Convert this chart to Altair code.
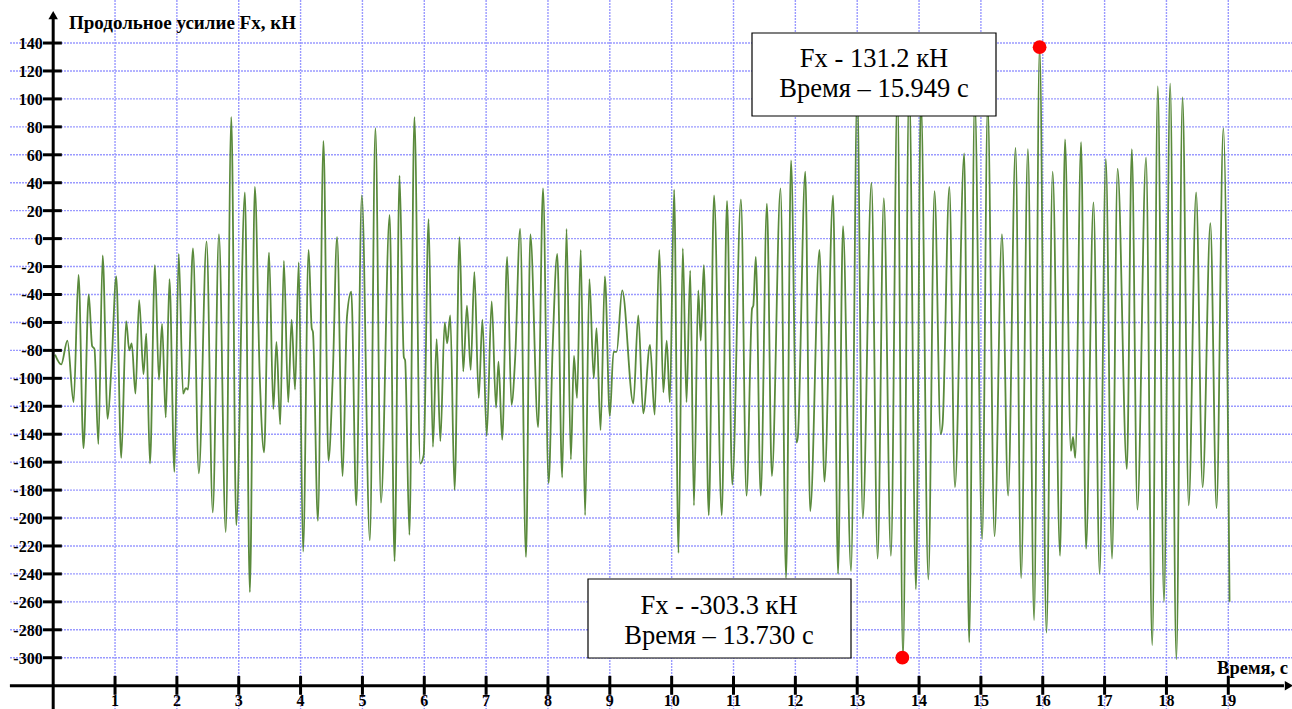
import altair as alt
import pandas as pd

# ---- signal ----
time_s = [0.03, 0.13, 0.23, 0.33, 0.41, 0.49, 0.575, 0.63, 0.667, 0.73, 0.80, 0.88, 0.946,
          1.02, 1.10, 1.18, 1.23, 1.27, 1.33, 1.39, 1.46, 1.505, 1.565, 1.645, 1.71, 1.76, 1.82, 1.88, 1.96,
          2.03, 2.10, 2.145, 2.18, 2.26, 2.355, 2.48, 2.58, 2.68, 2.79, 2.88, 2.96,
          3.10, 3.18, 3.26, 3.34, 3.41, 3.49, 3.56, 3.61, 3.67, 3.73, 3.80, 3.855, 3.91, 3.97,
          4.04, 4.13, 4.18, 4.20, 4.28, 4.37, 4.45, 4.52, 4.59, 4.68, 4.75, 4.82, 4.90, 4.99,
          5.12, 5.21, 5.30, 5.44, 5.52, 5.60, 5.67, 5.69, 5.76, 5.84, 5.935, 5.99,
          6.07, 6.14, 6.20, 6.26, 6.33, 6.37, 6.42, 6.49, 6.57, 6.63, 6.69, 6.75, 6.81, 6.88, 6.94,
          7.01, 7.09, 7.16, 7.20, 7.26, 7.34, 7.41, 7.47, 7.55, 7.645, 7.715, 7.84, 7.92,
          8.01, 8.075, 8.15, 8.23, 8.30, 8.37, 8.42, 8.47, 8.53, 8.60, 8.67, 8.74, 8.785, 8.85, 8.92,
          9.00, 9.06, 9.11, 9.20, 9.38, 9.46, 9.54, 9.65, 9.725, 9.80, 9.865, 9.92, 9.97,
          10.04, 10.11, 10.18, 10.24, 10.30, 10.36, 10.43, 10.47, 10.52, 10.60, 10.685, 10.81, 10.895, 10.98,
          11.12, 11.21, 11.30, 11.32, 11.36, 11.44, 11.54, 11.62, 11.76, 11.85, 11.93,
          12.02, 12.04, 12.16, 12.24, 12.39, 12.47, 12.61, 12.69, 12.77, 12.90,
          13.00, 13.09, 13.23, 13.33, 13.43, 13.545, 13.65, 13.74, 13.84, 13.95,
          14.03, 14.15, 14.25, 14.35, 14.38, 14.49, 14.58, 14.73, 14.81, 14.90,
          15.02, 15.11, 15.22, 15.34, 15.44, 15.56, 15.65, 15.76, 15.86, 15.949,
          16.06, 16.16, 16.28, 16.36, 16.455, 16.49, 16.525, 16.62, 16.70, 16.82, 16.92,
          17.02, 17.12, 17.21, 17.36, 17.44, 17.53, 17.67, 17.77, 17.86, 17.96,
          18.06, 18.16, 18.26, 18.36, 18.48, 18.585, 18.71, 18.81, 18.92, 19.02]
force_kn = [-83, -90, -73, -117, -26, -150, -40, -77, -79, -147, -12, -129, -88,
            -27, -157, -59, -80, -75, -111, -44, -97, -68, -161, -19, -101, -61, -128, -29, -167,
            -11, -111, -107, -108, -7, -168, -2, -196, 3, -210, 87, -205,
            33, -253, 37, -99, -153, -10, -122, -74, -133, -16, -117, -58, -108, -17,
            -224, -8, -64, -67, -202, 70, -159, -99, 1, -170, -56, -38, -191, 31,
            -216, 79, -189, 17, -231, 45, -85, -87, -212, 87, -161, -155,
            14, -149, -72, -145, -60, -75, -55, -180, 1, -95, -48, -94, -24, -114, -58,
            -141, -45, -121, -88, -144, -13, -119, -85, 7, -228, 3, -135, 36,
            -175, -79, -11, -171, 7, -158, -84, -114, -8, -198, -29, -100, -64, -137, -27,
            -127, -81, -81, -37, -118, -55, -125, -76, -126, -8, -110, -73, -117,
            35, -225, -7, -117, -23, -191, -37, -73, -19, -198, 31, -198, 27, -176,
            28, -184, -50, -48, -13, -184, 25, -170, 36, -243, 56,
            -146, -142, 48, -195, -8, -174, 31, -240, 9, -238,
            105, -200, 40, -229, 29, -227, 105, -300, 110, -251,
            100, -244, 34, -140, -133, 37, -178, 61, -289, 100,
            -215, 95, -213, 3, -184, 65, -243, 64, -273, 137,
            -282, 48, -227, 71, -152, -142, -157, 69, -222, 26, -240,
            57, -229, 50, -165, 64, -194, 58, -291, 109, -260,
            111, -301, 101, -191, 33, -178, 11, -193, 79, -260]

# ---- axes / grid ----
y_ticks = list(range(140, -301, -20))
x_ticks = list(range(1, 20))
y_tick_labels = [str(v) for v in y_ticks]
x_tick_labels = [str(v) for v in x_ticks]

# ---- marked extremes ----
mark_t = [15.949, 13.73]
mark_v = [137, -300]
box_line1 = ["Fx - 131.2 кН", "Fx - -303.3 кН"]
box_line2 = ["Время – 15.949 с", "Время – 13.730 с"]

title_y = "Продольное усилие Fx, кН"
title_x = "Время, с"

W, H = 1292, 709
XS = alt.Scale(domain=[-0.860, 20.03], nice=False, zero=False)
YS = alt.Scale(domain=[-336.7, 170.8], nice=False, zero=False)
FONT = "'Liberation Serif', 'Times New Roman', Times, serif"
GRID = "#9a9aff"


def X(f):
    return alt.X(f, type="quantitative", scale=XS, axis=None)


def Y(f):
    return alt.Y(f, type="quantitative", scale=YS, axis=None)


hgrid = alt.Chart(pd.DataFrame({"v": y_ticks})).mark_rule(
    color=GRID, strokeWidth=1.4, strokeDash=[2, 1]
).encode(y=Y("v"), x=alt.value(10), x2=alt.value(W))

vgrid = alt.Chart(pd.DataFrame({"t": x_ticks})).mark_rule(
    color=GRID, strokeWidth=1.4, strokeDash=[2, 1]
).encode(x=X("t"), y=alt.value(0), y2=alt.value(H))

line = alt.Chart(pd.DataFrame({"t": time_s, "v": force_kn})).mark_line(
    color="#5a8a3c", strokeWidth=1.8, interpolate="monotone"
).encode(x=X("t"), y=Y("v"))

boxes_df = pd.DataFrame({
    "x": [752, 588], "x2": [996, 851], "y": [33, 579], "y2": [116, 658],
    "cx": [874, 719], "b1": [67, 614], "b2": [97, 644],
    "l1": box_line1, "l2": box_line2,
})
boxes = alt.Chart(boxes_df).mark_rect(fill="white", stroke="black", strokeWidth=1.2).encode(
    x=alt.X("x:Q", scale=None), x2="x2:Q", y=alt.Y("y:Q", scale=None), y2="y2:Q")
btxt1 = alt.Chart(boxes_df).mark_text(font=FONT, fontSize=26.5, color="black", baseline="alphabetic",
                                      align="center").encode(
    x=alt.X("cx:Q", scale=None), y=alt.Y("b1:Q", scale=None), text="l1:N")
btxt2 = alt.Chart(boxes_df).mark_text(font=FONT, fontSize=26.5, color="black", baseline="alphabetic",
                                      align="center").encode(
    x=alt.X("cx:Q", scale=None), y=alt.Y("b2:Q", scale=None), text="l2:N")

dots = alt.Chart(pd.DataFrame({"t": mark_t, "v": mark_v})).mark_circle(
    color="#ff0000", opacity=1, size=190).encode(x=X("t"), y=Y("v"))

yaxis = alt.Chart(pd.DataFrame({"t": [0], "a": [158], "b": [-336.7]})).mark_rule(
    color="black", strokeWidth=3).encode(x=X("t"), y=Y("a"), y2="b:Q")
xaxis = alt.Chart(pd.DataFrame({"v": [-320], "a": [-0.70], "b": [19.9]})).mark_rule(
    color="black", strokeWidth=3).encode(y=Y("v"), x=X("a"), x2="b:Q")
yarrow = alt.Chart(pd.DataFrame({"t": [0], "v": [160]})).mark_point(
    shape="triangle-up", filled=True, color="black", opacity=1, size=90).encode(x=X("t"), y=Y("v"))
xarrow = alt.Chart(pd.DataFrame({"t": [19.98], "v": [-320]})).mark_point(
    shape="triangle-right", filled=True, color="black", opacity=1, size=90).encode(x=X("t"), y=Y("v"))

ytick_marks = alt.Chart(pd.DataFrame({"v": y_ticks, "a": -0.165, "b": 0.14})).mark_rule(
    color="black", strokeWidth=3).encode(y=Y("v"), x=X("a"), x2="b:Q")
xtick_marks = alt.Chart(pd.DataFrame({"t": x_ticks, "a": -313.0, "b": -326.5})).mark_rule(
    color="black", strokeWidth=3).encode(x=X("t"), y=Y("a"), y2="b:Q")

ylabels = alt.Chart(pd.DataFrame({"v": y_ticks, "lab": y_tick_labels, "a": -0.17})).mark_text(
    font=FONT, fontSize=16, fontWeight="bold", color="black", align="right", baseline="middle", dy=1
).encode(y=Y("v"), x=X("a"), text="lab:N")
xlabels = alt.Chart(pd.DataFrame({"t": x_ticks, "lab": x_tick_labels, "a": -331.5})).mark_text(
    font=FONT, fontSize=16, fontWeight="bold", color="black", align="center", baseline="middle", dy=-1
).encode(x=X("t"), y=Y("a"), text="lab:N")

ytitle = alt.Chart(pd.DataFrame({"s": [title_y]})).mark_text(
    font=FONT, fontSize=19, fontWeight="bold", color="black", align="left", baseline="alphabetic"
).encode(x=alt.value(69), y=alt.value(29), text="s:N")
xtitle = alt.Chart(pd.DataFrame({"s": [title_x]})).mark_text(
    font=FONT, fontSize=18.5, fontWeight="bold", color="black", align="right", baseline="alphabetic"
).encode(x=alt.value(1288), y=alt.value(674), text="s:N")

chart = alt.layer(
    hgrid, vgrid, line, boxes, btxt1, btxt2, dots,
    yaxis, xaxis, yarrow, xarrow, ytick_marks, xtick_marks,
    ylabels, xlabels, ytitle, xtitle
).properties(
    width=W, height=H, padding=0, autosize=alt.AutoSizeParams(type="none"), background="white"
).configure_view(stroke=None)

chart.save("out.html", embed_options={"renderer": "svg", "actions": False})
